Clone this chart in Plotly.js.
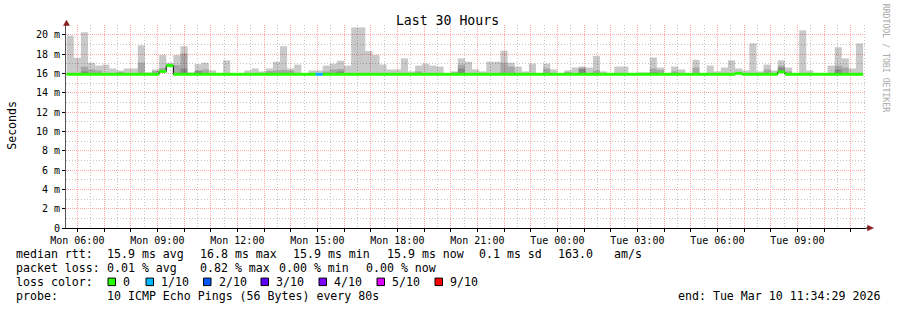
<!DOCTYPE html>
<html>
<head>
<meta charset="utf-8">
<script src="https://cdn.plot.ly/plotly-3.0.1.min.js"></script>
<style>html,body{margin:0;padding:0;background:#fff;}#chart{width:897px;height:310px;}</style>
</head>
<body>
<div id="chart"></div>
<script>
// ---------------- DATA ----------------
// time grid: RRD consolidation step of 960 s, first column starts Mon 05:36 (hours since Mon 00:00)
const START_HOUR = 5.6;
const STEP_HOURS = 16 / 60;

// median RTT per column (ms)
const MEDIAN = [
 15.9,15.9,15.9,15.9,15.9,15.9,15.9,15.9,15.9,15.9,
 15.9,15.9,15.9,16.2,16.8,15.9,15.9,15.9,15.9,15.9,
 15.9,15.9,15.9,15.9,15.9,15.9,15.9,15.9,15.9,15.9,
 15.9,15.9,15.9,15.9,15.9,15.9,15.9,15.9,15.9,15.9,
 15.9,15.9,15.9,15.9,15.9,15.9,15.9,15.9,15.9,15.9,
 15.9,15.9,15.9,15.9,15.9,15.9,15.9,15.9,15.9,15.9,
 15.9,15.9,15.9,15.9,15.9,15.9,15.9,15.9,15.9,15.9,
 15.9,15.9,15.9,15.9,15.9,15.9,15.9,15.9,15.9,15.9,
 15.9,15.9,15.9,15.9,15.9,15.9,15.9,15.9,15.9,15.9,
 15.9,15.9,15.9,15.9,16.0,15.9,15.9,15.9,15.9,15.9,
 16.15,15.9,15.9,15.9,15.9,15.9,15.9,15.9,15.9,15.9,
 15.9,15.9
];
// outer smoke: highest ping per column (ms)
const SMOKE_MAX = [
 19.9,17.6,20.25,17.1,16.8,16.9,16.5,16.3,16.5,16.5,
 18.9,16.1,16.4,17.9,17.1,17.9,18.8,16.1,16.95,17.1,
 16.3,null,17.35,null,null,16.3,16.5,16.2,16.5,17.2,
 18.8,16.5,16.9,null,16.3,16.3,16.8,17.0,17.3,16.8,
 20.75,20.75,18.3,17.9,16.9,16.4,16.4,17.55,16.2,16.8,
 17.0,16.8,16.7,null,16.2,17.55,17.2,16.4,16.2,17.2,
 17.2,18.35,17.1,16.7,16.2,17.0,null,17.0,16.4,null,
 16.3,16.6,16.7,16.6,17.8,16.2,null,16.7,16.7,null,
 16.1,16.1,17.65,16.6,null,16.7,16.4,null,17.4,null,
 16.8,16.2,16.6,17.35,16.5,16.3,19.1,16.2,16.9,16.3,
 17.35,16.6,null,20.45,16.3,null,null,16.8,18.7,17.55,
 16.5,19.1
];
// middle smoke band top (ms)
const SMOKE_MID = [
 null,null,16.7,16.4,16.3,null,null,16.15,null,null,
 17.1,null,16.25,16.55,null,16.85,18.05,null,16.3,16.4,
 null,null,null,null,null,null,null,null,16.25,16.3,
 16.35,16.3,null,null,null,null,16.2,16.4,16.45,null,
 null,null,null,null,null,null,null,null,null,16.2,
 null,null,null,null,16.1,16.9,null,null,null,null,
 null,17.1,16.7,null,null,null,null,16.5,null,null,
 16.15,null,16.6,null,16.3,null,null,null,null,null,
 null,null,16.5,16.35,null,16.2,null,null,16.6,null,
 null,null,null,null,null,null,null,null,16.4,null,
 16.8,16.2,null,null,null,null,null,null,16.8,16.6,
 null,null
];
// inner smoke band top (ms)
const SMOKE_INNER = [
 null,null,16.2,null,null,null,null,null,null,null,
 null,null,null,null,null,null,16.5,null,16.25,null,
 null,null,null,null,null,null,null,null,null,null,
 null,null,null,null,null,null,null,null,16.2,null,
 null,null,null,null,null,null,null,null,null,null,
 null,null,null,null,null,16.5,null,null,null,null,
 null,null,null,null,null,null,null,null,null,null,
 null,null,16.45,null,null,null,null,null,null,null,
 null,null,16.1,null,null,null,null,null,null,null,
 null,null,null,null,null,null,null,null,null,null,
 16.6,null,null,null,null,null,null,null,16.4,null,
 null,null
];
// packet loss per column, in tenths
const LOSS = [
 0,0,0,0,0,0,0,0,0,0, 0,0,0,0,0,0,0,0,0,0,
 0,0,0,0,0,0,0,0,0,0, 0,0,0,0,0,1,0,0,0,0,
 0,0,0,0,0,0,0,0,0,0, 0,0,0,0,0,0,0,0,0,0,
 0,0,0,0,0,0,0,0,0,0, 0,0,0,0,0,0,0,0,0,0,
 0,0,0,0,0,0,0,0,0,0, 0,0,0,0,0,0,0,0,0,0,
 0,0,0,0,0,0,0,0,0,0, 0,0
];
const LOSS_LEVELS = [0, 1, 2, 3, 4, 5, 9];
const LOSS_LABELS = ['0', '1/10', '2/10', '3/10', '4/10', '5/10', '9/10'];
const LOSS_COLORS = ['#26ff00', '#00b8ff', '#0059ff', '#5e00ff', '#7e00ff', '#dd00ff', '#ff0000'];

const X_TICK_HOURS = [6, 9, 12, 15, 18, 21, 24, 27, 30, 33];
const X_TICK_LABELS = ['Mon 06:00','Mon 09:00','Mon 12:00','Mon 15:00','Mon 18:00','Mon 21:00','Tue 00:00','Tue 03:00','Tue 06:00','Tue 09:00'];
const Y_TICK_VALUES = [0,2,4,6,8,10,12,14,16,18,20];
const Y_TICK_LABELS = ['0','2 m','4 m','6 m','8 m','10 m','12 m','14 m','16 m','18 m','20 m'];

const STATS_RTT = ['15.9 ms avg', '16.8 ms max', '15.9 ms min', '15.9 ms now', '0.1 ms sd', '163.0', 'am/s'];
const STATS_LOSS = ['0.01 % avg', '0.82 % max', '0.00 % min', '0.00 % now'];
const PROBE_TEXT = '10 ICMP Echo Pings (56 Bytes) every 80s';
const END_TEXT = 'end: Tue Mar 10 11:34:29 2026';

// ---------------- LAYOUT GEOMETRY ----------------
const W = 897, H = 310;
const PL = 66, PR = 866, PT = 25.35, PB = 228;
const X_RANGE = [5.575, 35.575];
const Y_RANGE = [0, 21];
const px = v => (v - PL) / (PR - PL);
const py = v => (PB - v) / (PB - PT);
const MONO = 'DejaVu Sans Mono';
const FS = 11.6;

// ---------------- TRACES ----------------
const n = MEDIAN.length;
const centers = MEDIAN.map((_, i) => START_HOUR + STEP_HOURS * (i + 0.5));
function smokeBar(tops, color) {
  return {
    type: 'bar', x: centers, base: MEDIAN,
    y: tops.map((t, i) => t == null ? null : t - MEDIAN[i]),
    width: STEP_HOURS, marker: { color: color, line: { width: 0 } },
    hoverinfo: 'skip', showlegend: false
  };
}
const traces = [
  smokeBar(SMOKE_MAX, 'rgba(0,0,0,0.21)'),
  smokeBar(SMOKE_MID, 'rgba(0,0,0,0.17)'),
  smokeBar(SMOKE_INNER, 'rgba(0,0,0,0.18)')
];
// thin dark median step line (visible at vertical transitions)
const edges = [], edgeY = [];
for (let i = 0; i <= n; i++) {
  edges.push(START_HOUR + STEP_HOURS * i);
  edgeY.push(MEDIAN[Math.min(i, n - 1)]);
}
traces.push({ type: 'scatter', mode: 'lines', x: edges, y: edgeY,
  line: { shape: 'hv', width: 1, color: '#000' }, hoverinfo: 'skip', showlegend: false });
// loss-coloured median segments
LOSS_LEVELS.forEach((lv, li) => {
  const xs = [], ys = [];
  for (let i = 0; i < n; i++) {
    if (LOSS[i] === lv) {
      xs.push(START_HOUR + STEP_HOURS * i, START_HOUR + STEP_HOURS * (i + 1), null);
      ys.push(MEDIAN[i], MEDIAN[i], null);
    }
  }
  if (xs.length) traces.push({ type: 'scatter', mode: 'lines', x: xs, y: ys,
    line: { width: 3, color: LOSS_COLORS[li] }, hoverinfo: 'skip', showlegend: false });
});

// hourly major grid with labels every 3 hours; half-hour minor grid
const hourVals = [], hourText = [], halfVals = [];
for (let h = 5; h <= 35; h++) {
  hourVals.push(h);
  halfVals.push(h + 0.5);
  const idx = X_TICK_HOURS.indexOf(h);
  hourText.push(idx >= 0 ? X_TICK_LABELS[idx] : '');
}
const oddVals = [];
for (let v = 1; v <= 21; v += 2) oddVals.push(v);

// ---------------- ANNOTATIONS ----------------
const ann = [];
function txt(t, x, y, opts) {
  ann.push(Object.assign({ text: t, xref: 'paper', yref: 'paper', x: px(x), y: py(y),
    xanchor: 'left', yanchor: 'middle', showarrow: false, borderpad: 0,
    font: { family: MONO, size: FS, color: '#000' } }, opts || {}));
}
const ROW = [254.2, 267.9, 281.8, 295.6];
txt('median rtt:', 15, ROW[0]);
[106, 199, 292.3, 385.7, 478.3, 557.3, 613.3].forEach((x, i) => txt(STATS_RTT[i], x, ROW[0]));
txt('packet loss:', 15, ROW[1]);
[106, 199.3, 278.3, 364.7].forEach((x, i) => txt(STATS_LOSS[i], x, ROW[1]));
txt('loss color:', 15, ROW[2]);
const BOX_X = [108, 146, 203.5, 261, 319, 377, 435];
const shapes = [];
LOSS_LABELS.forEach((lab, i) => {
  txt(lab, BOX_X[i] + 14, ROW[2]);
  shapes.push({ type: 'rect', xref: 'paper', yref: 'paper',
    x0: px(BOX_X[i]), x1: px(BOX_X[i] + 7.5), y0: py(285.5), y1: py(278),
    fillcolor: LOSS_COLORS[i], line: { color: '#000', width: 1 } });
});
txt('probe:', 15, ROW[3]);
txt(PROBE_TEXT, 106, ROW[3]);
txt(END_TEXT, 881, ROW[3], { xanchor: 'right' });
txt('Seconds', 12, 126, { xanchor: 'center', textangle: -90 });
txt('RRDTOOL / TOBI OETIKER', 886, 59, { xanchor: 'center', textangle: 90,
  font: { family: MONO, size: 8.2, color: '#a8a8a8' } });

// axis arrows
const ARROW = '#8b1c1c';
shapes.push({ type: 'path', xref: 'paper', yref: 'paper', fillcolor: ARROW, line: { color: ARROW, width: 0.5 },
  path: `M ${px(63.5)} ${py(25.8)} L ${px(69.5)} ${py(25.8)} L ${px(66.5)} ${py(20.5)} Z` });
shapes.push({ type: 'path', xref: 'paper', yref: 'paper', fillcolor: ARROW, line: { color: ARROW, width: 0.5 },
  path: `M ${px(867.5)} ${py(225.2)} L ${px(867.5)} ${py(230.8)} L ${px(873.5)} ${py(228)} Z` });
shapes.push({ type: 'line', xref: 'paper', yref: 'paper', x0: px(866), x1: px(868), y0: py(228), y1: py(228),
  line: { color: '#000', width: 1 } });

const GRID_RED = '#ffa8a8';
const GRID_GREY = '#c4c4c4';

const layout = {
  width: W, height: H,
  margin: { l: PL, r: W - PR, t: PT, b: H - PB, pad: 0 },
  paper_bgcolor: '#fff', plot_bgcolor: '#fff',
  showlegend: false, hovermode: false, barmode: 'overlay',
  title: { text: 'Last 30 Hours', font: { family: MONO, size: 13.2, color: '#000' },
    x: 447.5 / W, xanchor: 'center', xref: 'container', y: 1 - 20 / H, yanchor: 'middle', yref: 'container' },
  xaxis: {
    range: X_RANGE, tickmode: 'array', tickvals: hourVals, ticktext: hourText,
    showgrid: true, gridcolor: GRID_RED, griddash: '1px,1px', gridwidth: 1,
    ticks: 'outside', ticklen: 3, tickcolor: '#000', tickwidth: 1,
    showline: true, linecolor: '#000', linewidth: 1, zeroline: false,
    tickfont: { family: MONO, size: 10, color: '#000' }, tickangle: 0,
    minor: { tickmode: 'array', tickvals: halfVals, showgrid: true, gridcolor: GRID_GREY, griddash: '1px,2px', gridwidth: 1, ticks: '' },
    fixedrange: true, automargin: false
  },
  yaxis: {
    range: Y_RANGE, tickmode: 'array', tickvals: Y_TICK_VALUES, ticktext: Y_TICK_LABELS,
    showgrid: true, gridcolor: GRID_RED, griddash: '1px,1px', gridwidth: 1,
    ticks: 'outside', ticklen: 3, tickcolor: '#000', tickwidth: 1,
    showline: true, linecolor: '#555', linewidth: 1, zeroline: false,
    tickfont: { family: MONO, size: 10, color: '#000' },
    minor: { tickmode: 'array', tickvals: oddVals, showgrid: true, gridcolor: GRID_GREY, griddash: '1px,2px', gridwidth: 1, ticks: '' },
    fixedrange: true, automargin: false
  },
  annotations: ann,
  shapes: shapes
};

Plotly.newPlot('chart', traces, layout, { staticPlot: true, displayModeBar: false });
</script>
</body>
</html>
